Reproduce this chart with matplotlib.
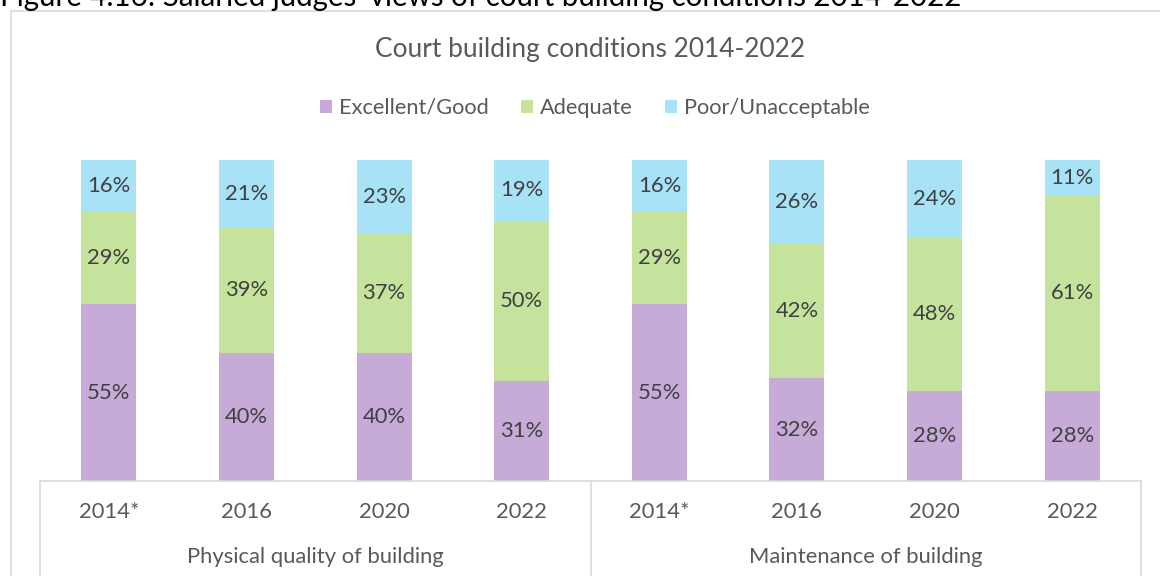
import matplotlib.pyplot as plt
from matplotlib.patches import Rectangle
import numpy as np

plt.rcParams['font.family'] = ['Lato', 'DejaVu Sans']

# data
years = ["2014*", "2016", "2020", "2022", "2014*", "2016", "2020", "2022"]
groups = ["Physical quality of building", "Maintenance of building"]
series = ["Excellent/Good", "Adequate", "Poor/Unacceptable"]
good = [55, 40, 40, 31, 55, 32, 28, 28]
adequate = [29, 39, 37, 50, 29, 42, 48, 61]
poor = [16, 21, 23, 19, 16, 26, 24, 11]
colors = ["#C6ABD8", "#C5E39D", "#A7E2F7"]

W, H = 1160, 576
def pt(px):
    return px * 72 / 100

fig = plt.figure(figsize=(W / 100, H / 100), dpi=100)

# outer chart border (cut off on right / bottom)
fig.patches.append(Rectangle((11 / W, -0.05), 1.1, 1 - 11 / H + 0.05,
                             transform=fig.transFigure, fill=False,
                             edgecolor="#D9D9D9", linewidth=1.2))

# figure caption, cropped at the top like the source
fig.text(0.0, 1 - 6 / H, "Figure 4.16: Salaried judges' views of court building conditions 2014-2022",
         fontsize=pt(29.5), color="black", ha="left", va="baseline")

fig.text(590 / W, 1 - 50 / H, "Court building conditions 2014-2022",
         fontsize=pt(26.3), color="#595959", ha="center", va="center")

ax = fig.add_axes([40 / W, (H - 481) / H, 1101 / W, 321 / H])
x = np.arange(len(years))
vals = [good, adequate, poor]
bottom = np.zeros(len(years))
handles = []
for v, c, name in zip(vals, colors, series):
    v = np.array(v)
    b = ax.bar(x, v, 0.4, bottom=bottom, color=c, label=name)
    handles.append(b)
    for xi, yi, bi in zip(x, v, bottom):
        ax.text(xi, bi + yi / 2, f"{yi}%", ha="center", va="center",
                fontsize=pt(22), color="#404040")
    bottom = bottom + v

ax.set_xlim(-0.5, len(years) - 0.5)
ax.set_ylim(0, 100)
ax.set_xticks([])
ax.set_yticks([])
for s in ["top", "left", "right"]:
    ax.spines[s].set_visible(False)
ax.spines["bottom"].set_color("#D9D9D9")
ax.spines["bottom"].set_linewidth(1.2)

tr = ax.get_xaxis_transform()
for xv in [-0.5, 3.5, 7.5]:
    ax.plot([xv, xv], [0, -0.35], transform=tr, color="#D9D9D9", lw=1.2, clip_on=False)

for xi, lab in zip(x, years):
    ax.text(xi, -31 / 321, lab, transform=tr, ha="center", va="center",
            fontsize=pt(22), color="#595959")
for gi, g in enumerate(groups):
    ax.text(gi * 4 + 1.5, -76 / 321, g, transform=tr, ha="center", va="center",
            fontsize=pt(22), color="#595959")

fig.legend(handles=handles, labels=series, loc="center", bbox_to_anchor=(595 / W, 1 - 108 / H),
           ncol=3, frameon=False, fontsize=pt(21.8), labelcolor="#595959",
           handlelength=0.55, handleheight=0.55, handletextpad=0.3, columnspacing=1.5)

fig.savefig("out.png", dpi=100)
